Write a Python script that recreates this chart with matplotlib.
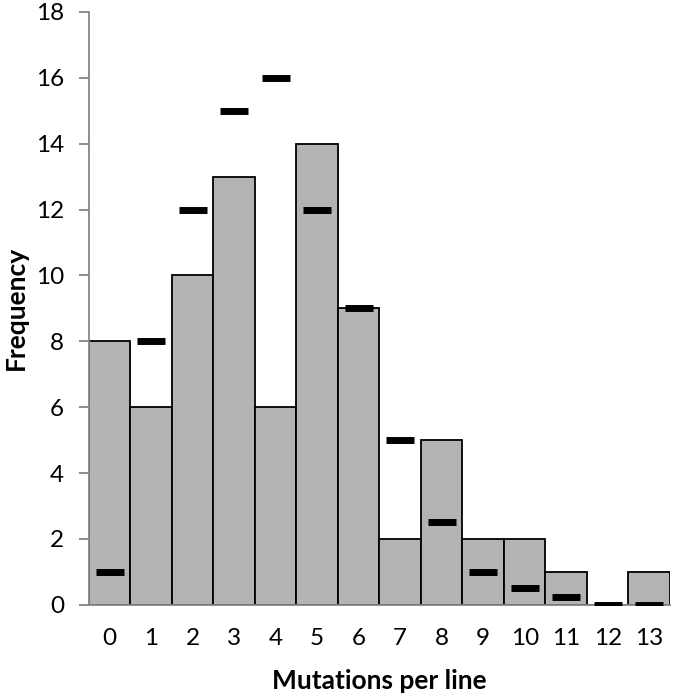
import numpy as np
import matplotlib
matplotlib.use('Agg')
import matplotlib.pyplot as plt

plt.rcParams['font.family'] = ['Lato', 'DejaVu Sans']

mutaciones = np.arange(14)
observado = [8, 6, 10, 13, 6, 14, 9, 2, 5, 2, 2, 1, 0, 1]
esperado = [1, 8, 12, 15, 16, 12, 9, 5, 2.5, 1, 0.5, 0.25, 0, 0]

fig = plt.figure(figsize=(6.74, 7), dpi=100)
ax = fig.add_axes([0.132, 0.136, 0.862, 0.847])

ax.bar(mutaciones, observado, width=1.0, color='#b3b3b3', edgecolor='black', linewidth=1.3, zorder=2)
ax.plot(mutaciones, esperado, linestyle='none', marker='_', markersize=20,
        markeredgewidth=5, color='black', zorder=3)

ax.set_xlim(-0.5, 13.5)
ax.set_ylim(0, 18)
ax.set_yticks(np.arange(0, 19, 2))
ax.set_xticks(mutaciones)

for lado in ['top', 'right']:
    ax.spines[lado].set_visible(False)
ax.spines['left'].set_color('#868686')
ax.spines['bottom'].set_color('#868686')
ax.spines['left'].set_linewidth(1.3)
ax.spines['bottom'].set_linewidth(1.3)

ax.tick_params(axis='y', direction='out', length=7, width=1.3, color='#868686', labelsize=17.5, pad=11)
ax.tick_params(axis='x', length=0, labelsize=17.5, pad=17)

ax.set_xlabel('Mutations per line', fontsize=19, fontweight='bold', labelpad=14)
ax.set_ylabel('Frequency', fontsize=19, fontweight='bold', labelpad=6)

plt.savefig('out.png', dpi=100)
